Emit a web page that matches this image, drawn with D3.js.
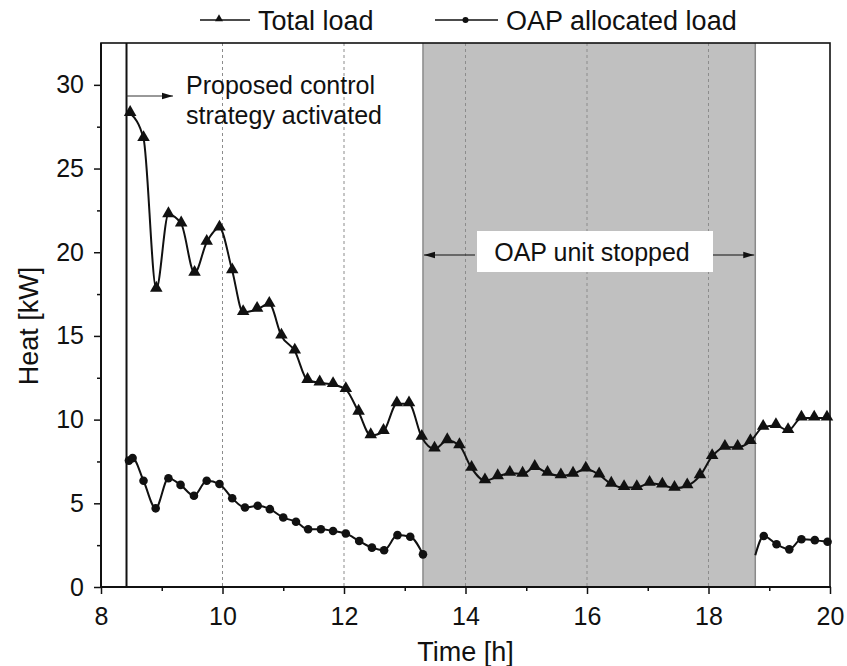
<!DOCTYPE html>
<html>
<head>
<meta charset="utf-8">
<script src="https://cdn.jsdelivr.net/npm/d3@7"></script>
<style>
  body { margin: 0; background: #fff; }
  text { font-family: "Liberation Sans", Arial, sans-serif; fill: #111; }
</style>
</head>
<body>
<div id="viz"></div>
<script>
// values
let totalTime = [8.48, 8.70, 8.91, 9.11, 9.32, 9.54, 9.74, 9.95, 10.16, 10.34, 10.57, 10.77, 10.97,
  11.19, 11.40, 11.60, 11.82, 12.03, 12.24, 12.44, 12.65, 12.87, 13.07, 13.28, 13.49, 13.70, 13.90,
  14.10, 14.32, 14.53, 14.73, 14.94, 15.14, 15.35, 15.57, 15.77, 15.98, 16.20, 16.40, 16.61, 16.82,
  17.03, 17.24, 17.44, 17.65, 17.86, 18.06, 18.27, 18.48, 18.69, 18.90, 19.11, 19.31, 19.53, 19.74, 19.95];
let totalLoad = [28.3, 26.8, 17.8, 22.25, 21.7, 18.75, 20.6, 21.45, 18.9, 16.4, 16.6, 16.9, 15.0,
  14.1, 12.35, 12.2, 12.1, 11.8, 10.45, 9.05, 9.3, 10.95, 10.95, 8.95, 8.25, 8.75, 8.45,
  7.1, 6.35, 6.6, 6.8, 6.75, 7.15, 6.8, 6.65, 6.75, 7.05, 6.7, 6.15, 5.95, 5.95,
  6.2, 6.1, 5.9, 6.05, 6.65, 7.8, 8.35, 8.35, 8.7, 9.55, 9.65, 9.35, 10.1, 10.1, 10.1];

let oapTime = [8.46, 8.52, 8.70, 8.90, 9.11, 9.31, 9.53, 9.74, 9.95, 10.16, 10.37, 10.58, 10.78,
  11.00, 11.21, 11.41, 11.62, 11.82, 12.03, 12.25, 12.46, 12.66, 12.88, 13.09, 13.30,
  16.0,
  18.77, 18.91, 19.12, 19.33, 19.53, 19.75, 19.96];
let oapLoad = [7.55, 7.7, 6.35, 4.7, 6.5, 6.1, 5.45, 6.35, 6.15, 5.3, 4.75, 4.85, 4.65,
  4.15, 3.9, 3.45, 3.45, 3.35, 3.2, 2.75, 2.35, 2.2, 3.1, 3.0, 1.95,
  null,
  1.9, 3.05, 2.55, 2.25, 2.85, 2.8, 2.7];

let xMajor = [8, 10, 12, 14, 16, 18, 20];
let xMinor = [9, 11, 13, 15, 17, 19];
let yMajor = [0, 5, 10, 15, 20, 25, 30];
let yMinor = [2.5, 7.5, 12.5, 17.5, 22.5, 27.5];
let gridTimes = [10, 12, 14, 16, 18];

let activateTime = 8.42;
let stopStart = 13.3;
let stopEnd = 18.77;

let w = 847;
let h = 666;
let mLeft = 101, mRight = 830, mTop = 43, mBottom = 587;

let svg = d3.select("#viz").append("svg")
  .attr("width", w).attr("height", h);

let x = d3.scaleLinear().domain([8, 20]).range([mLeft, mRight]);
let y = d3.scaleLinear().domain([0, 32.5]).range([mBottom, mTop]);

let total = totalTime.map((t, i) => ({ t: t, v: totalLoad[i] }));
let oap = oapTime.map((t, i) => ({ t: t, v: oapLoad[i] }));

// shaded period where the OAP unit was off
svg.append("rect")
  .attr("x", x(stopStart)).attr("y", mTop)
  .attr("width", x(stopEnd) - x(stopStart)).attr("height", mBottom - mTop)
  .attr("fill", "#c0c0c0");
svg.selectAll(".shadeEdge").data([stopStart, stopEnd]).enter().append("line")
  .attr("class", "shadeEdge")
  .attr("x1", d => x(d)).attr("x2", d => x(d))
  .attr("y1", mTop).attr("y2", mBottom)
  .attr("stroke", "#8a8a8a").attr("stroke-width", 1.5);

// dashed grid
svg.selectAll(".grid").data(gridTimes).enter().append("line")
  .attr("class", "grid")
  .attr("x1", d => x(d)).attr("x2", d => x(d))
  .attr("y1", mTop).attr("y2", mBottom)
  .attr("stroke", "#8c8c8c").attr("stroke-width", 1)
  .attr("stroke-dasharray", "3,3");

// arrow heads
let defs = svg.append("defs");
defs.append("marker").attr("id", "head")
  .attr("viewBox", "0 0 10 10").attr("refX", 10).attr("refY", 5)
  .attr("markerWidth", 11).attr("markerHeight", 11)
  .attr("markerUnits", "userSpaceOnUse")
  .attr("orient", "auto")
  .append("path").attr("d", "M0,2 L10,5 L0,8 Z").attr("fill", "#111");

// "OAP unit stopped" label
let midY = 255;
svg.append("rect")
  .attr("x", 477).attr("y", 231).attr("width", 236).attr("height", 41)
  .attr("fill", "#fff");
svg.append("text")
  .attr("x", 592).attr("y", 261)
  .attr("text-anchor", "middle").attr("font-size", "25px")
  .text("OAP unit stopped");
svg.append("line")
  .attr("x1", 475).attr("x2", x(stopStart) + 1)
  .attr("y1", midY).attr("y2", midY)
  .attr("stroke", "#111").attr("stroke-width", 1)
  .attr("marker-end", "url(#head)");
svg.append("line")
  .attr("x1", 713).attr("x2", x(stopEnd) - 1)
  .attr("y1", midY).attr("y2", midY)
  .attr("stroke", "#111").attr("stroke-width", 1)
  .attr("marker-end", "url(#head)");

// control activation
svg.append("line")
  .attr("x1", x(activateTime)).attr("x2", x(activateTime))
  .attr("y1", mTop).attr("y2", mBottom)
  .attr("stroke", "#111").attr("stroke-width", 2);
svg.append("line")
  .attr("x1", x(activateTime)).attr("x2", 173)
  .attr("y1", 96).attr("y2", 96)
  .attr("stroke", "#333").attr("stroke-width", 1)
  .attr("marker-end", "url(#head)");
svg.append("text").attr("x", 186).attr("y", 94).attr("font-size", "25px").text("Proposed control");
svg.append("text").attr("x", 186).attr("y", 124).attr("font-size", "25px").text("strategy activated");

// series
let line = d3.line()
  .defined(d => d.v != null)
  .x(d => x(d.t)).y(d => y(d.v))
  .curve(d3.curveMonotoneX);

svg.append("path").datum(total)
  .attr("d", line).attr("fill", "none")
  .attr("stroke", "#111").attr("stroke-width", 2);
svg.append("path").datum(oap)
  .attr("d", line).attr("fill", "none")
  .attr("stroke", "#111").attr("stroke-width", 2);

let tri = d3.symbol().type(d3.symbolTriangle).size(68);
svg.selectAll(".tri").data(total).enter().append("path")
  .attr("class", "tri")
  .attr("d", tri)
  .attr("transform", d => "translate(" + x(d.t) + "," + (y(d.v) - 1) + ")")
  .attr("fill", "#111");

svg.selectAll(".dot").data(oap.filter(d => d.v != null && !(d.t > stopStart && d.t <= stopEnd)))
  .enter().append("circle")
  .attr("class", "dot")
  .attr("cx", d => x(d.t)).attr("cy", d => y(d.v))
  .attr("r", 4.3).attr("fill", "#111");

// frame
svg.append("rect")
  .attr("x", mLeft).attr("y", mTop).attr("width", mRight - mLeft).attr("height", mBottom - mTop)
  .attr("fill", "none").attr("stroke", "#111").attr("stroke-width", 1.6);

// axes
let xAxisMajor = d3.axisBottom(x).tickValues(xMajor).tickSize(7).tickPadding(13).tickFormat(d3.format("d"));
let xAxisMinor = d3.axisBottom(x).tickValues(xMinor).tickSize(4).tickFormat("");
let yAxisMajor = d3.axisLeft(y).tickValues(yMajor).tickSize(7).tickPadding(10).tickFormat(d3.format("d"));
let yAxisMinor = d3.axisLeft(y).tickValues(yMinor).tickSize(4).tickFormat("");

function styleAxis(g) {
  g.select(".domain").remove();
  g.selectAll("line").attr("stroke", "#111").attr("stroke-width", 1.5);
  g.selectAll("text").attr("font-size", "25px").attr("fill", "#111")
    .attr("font-family", "'Liberation Sans', Arial, sans-serif");
}

svg.append("g").attr("transform", "translate(0," + mBottom + ")").call(xAxisMajor).call(styleAxis);
svg.append("g").attr("transform", "translate(0," + mBottom + ")").call(xAxisMinor).call(styleAxis);
svg.append("g").attr("transform", "translate(" + mLeft + ",0)").call(yAxisMajor).call(styleAxis);
svg.append("g").attr("transform", "translate(" + mLeft + ",0)").call(yAxisMinor).call(styleAxis);

svg.append("line")
  .attr("x1", mLeft - 1).attr("x2", mRight + 1).attr("y1", mBottom).attr("y2", mBottom)
  .attr("stroke", "#111").attr("stroke-width", 2.2);
svg.append("line")
  .attr("x1", mLeft).attr("x2", mLeft).attr("y1", mTop).attr("y2", mBottom + 1)
  .attr("stroke", "#111").attr("stroke-width", 2);

// axis titles
svg.append("text")
  .attr("x", (mLeft + mRight) / 2).attr("y", 661)
  .attr("text-anchor", "middle").attr("font-size", "27px")
  .text("Time [h]");
svg.append("text")
  .attr("transform", "translate(38,326) rotate(-90)")
  .attr("text-anchor", "middle").attr("font-size", "27px")
  .text("Heat [kW]");

// legend
let legendY = 20;
let legend = [
  { label: "Total load", x1: 200, x2: 250, mark: "tri" },
  { label: "OAP allocated load", x1: 435, x2: 498, mark: "dot" }
];
legend.forEach(item => {
  svg.append("line")
    .attr("x1", item.x1).attr("x2", item.x2)
    .attr("y1", legendY).attr("y2", legendY)
    .attr("stroke", "#111").attr("stroke-width", 1.5);
  let cx = (item.x1 + item.x2) / 2;
  if (item.mark === "tri") {
    svg.append("path").attr("d", d3.symbol().type(d3.symbolTriangle).size(28))
      .attr("transform", "translate(" + (cx - 6) + "," + (legendY - 1) + ")")
      .attr("fill", "#111");
  } else {
    svg.append("circle").attr("cx", cx - 1).attr("cy", legendY).attr("r", 3).attr("fill", "#111");
  }
  svg.append("text")
    .attr("x", item.x2 + 8).attr("y", legendY + 9.5)
    .attr("font-size", "27px")
    .text(item.label);
});
</script>
</body>
</html>
